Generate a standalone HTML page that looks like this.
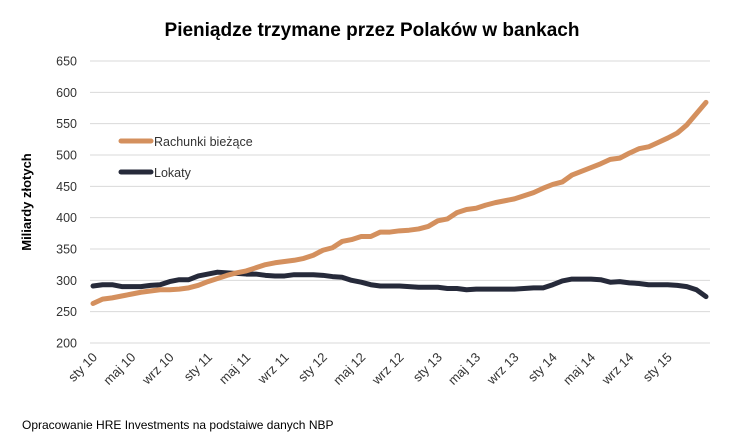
<!DOCTYPE html>
<html><head><meta charset="utf-8"><style>
body{margin:0;background:#fff;}
svg{display:block;font-family:"Liberation Sans",sans-serif;}
</style></head><body>
<svg id="chart" width="748" height="445" viewBox="0 0 748 445">
<text x="372" y="36" text-anchor="middle" font-size="19" font-weight="bold" fill="#000">Pieniądze trzymane przez Polaków w bankach</text>
<text transform="translate(31,202) rotate(-90)" text-anchor="middle" font-size="13" font-weight="bold">Miliardy złotych</text>
<g id="grid"></g><g id="ylabels"></g><g id="xlabels"></g><g id="lines"></g>
<g>
<line x1="121" y1="141" x2="151" y2="141" stroke="#d4905e" stroke-width="5" stroke-linecap="round"/>
<text x="154" y="146" font-size="12.5" fill="#333">Rachunki bieżące</text>
<line x1="121" y1="172" x2="151" y2="172" stroke="#262a3a" stroke-width="5" stroke-linecap="round"/>
<text x="154" y="177" font-size="12.5" fill="#333">Lokaty</text>
</g>
<text x="22" y="429" font-size="12" fill="#000">Opracowanie HRE Investments na podstaiwe danych NBP</text>
</svg>
<script>
const rachunki=[263,270,272,275,278,281,283,285,285,286,288,292,298,303,308,312,315,320,325,328,330,332,335,340,348,352,362,365,370,370,377,377,379,380,382,386,395,398,408,413,415,420,424,427,430,435,440,447,453,457,468,474,480,486,493,495,503,510,513,520,527,535,548,566,584];
const lokaty=[291,293,293,290,290,290,292,293,298,301,301,307,310,313,312,311,310,310,308,307,307,309,309,309,308,306,305,300,297,293,291,291,291,290,289,289,289,287,287,285,286,286,286,286,286,287,288,288,293,299,302,302,302,301,297,298,296,295,293,293,293,292,290,285,274];
const yTicks=[200,250,300,350,400,450,500,550,600,650];
const xTickLabels=["sty 10","maj 10","wrz 10","sty 11","maj 11","wrz 11","sty 12","maj 12","wrz 12","sty 13","maj 13","wrz 13","sty 14","maj 14","wrz 14","sty 15"];
const NS="http://www.w3.org/2000/svg";
const x0=93,x1=706,yTop=61,yBot=343,vMin=200,vMax=650;
const n=rachunki.length;
function xs(i){return x0+i*(x1-x0)/(n-1);}
function ys(v){return yBot-(v-vMin)*(yBot-yTop)/(vMax-vMin);}
function mk(t,a,p){const e=document.createElementNS(NS,t);for(const k in a)e.setAttribute(k,a[k]);p.appendChild(e);return e;}
const grid=document.getElementById('grid'),yl=document.getElementById('ylabels'),xl=document.getElementById('xlabels'),ln=document.getElementById('lines');
yTicks.forEach(v=>{
 const g=mk('line',{x1:90,x2:710,y1:ys(v),y2:ys(v),stroke:'#d9d9d9','stroke-width':1},grid);
 
 
 const t=mk('text',{x:77,y:ys(v)+4.5,'text-anchor':'end','font-size':12.5,fill:'#333'},yl);
 t.textContent=v;
 
 
});
xTickLabels.forEach((s,k)=>{
 const x=xs(k*4)+5,y=358;
 const t=mk('text',{x:x,y:y,'text-anchor':'end','font-size':13,fill:'#333',transform:`rotate(-45 ${x} ${y})`},xl);
 t.textContent=s;
 
 
});
function series(arr,color,name){
 const p=mk('polyline',{points:arr.map((v,i)=>xs(i)+','+ys(v)).join(' '),fill:'none',stroke:color,'stroke-width':5,'stroke-linejoin':'round','stroke-linecap':'round'},ln);
 
 
}
series(lokaty,'#262a3a','line-lokaty');
series(rachunki,'#d4905e','line-rachunki');
</script>
</body></html>
